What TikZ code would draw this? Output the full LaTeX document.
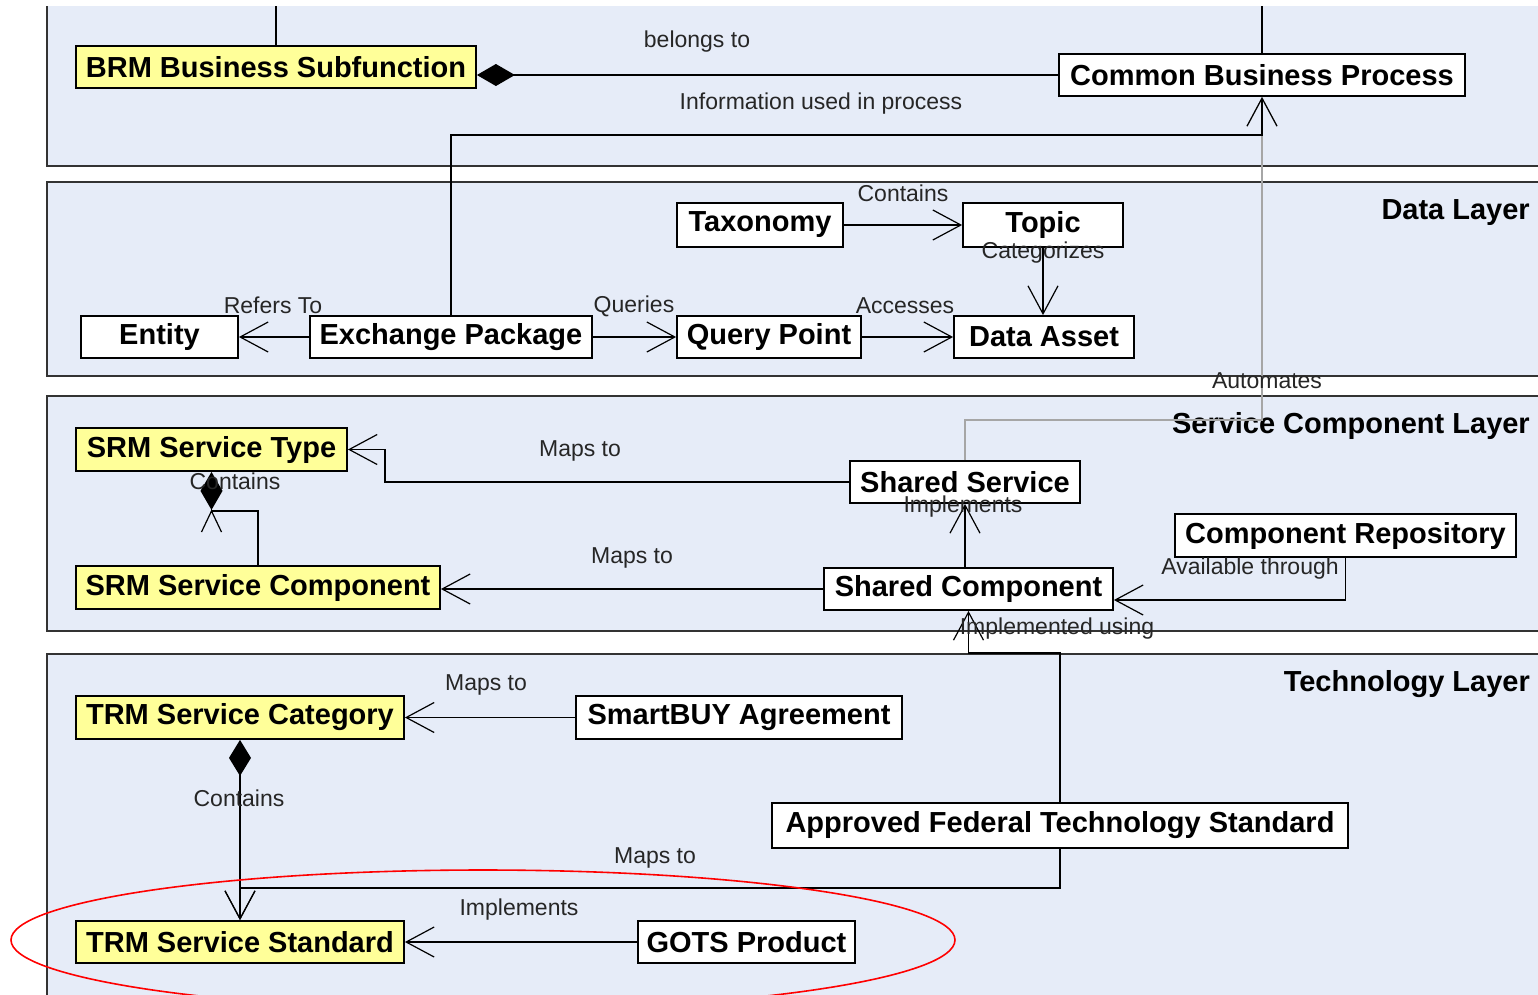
\documentclass[tikz,border=0pt]{standalone}
\usepackage{fontspec}
\setmainfont{Liberation Sans}
\usetikzlibrary{arrows.meta}
\definecolor{panelblue}{HTML}{E6ECF8}
\definecolor{boxyellow}{HTML}{FFFF99}
\begin{document}
\begin{tikzpicture}[x=1pt,y=-1pt,
  box/.style={draw=black, line width=1.8pt, fill=white, inner sep=0pt, font=\fontsize{29}{31}\selectfont\bfseries, text=black},
  ybox/.style={box, fill=boxyellow},
  lbl/.style={font=\fontsize{23}{25}\selectfont, inner sep=0pt, text=black!85},
  layerlbl/.style={font=\fontsize{29}{31}\selectfont\bfseries, inner sep=0pt, anchor=east},
  panelline/.style={line width=2pt, draw=black!80},
  conn/.style={line width=1.5pt, draw=black},
  arr/.style={conn, -{Straight Barb[length=28pt,width=30pt,line width=1.2pt]}},
  dia/.style={conn, -{Diamond[length=38pt,width=22pt]}},
]
\useasboundingbox (0,0) rectangle (1538,994);
% panels
\fill[panelblue] (47,6) rectangle (1560,166);
\draw[panelline] (47,6) -- (47,166) -- (1560,166);
\fill[panelblue] (47,182) rectangle (1560,376);
\draw[panelline] (1560,182) -- (47,182) -- (47,376) -- (1560,376);
\fill[panelblue] (47,396) rectangle (1560,631);
\draw[panelline] (1560,396) -- (47,396) -- (47,631) -- (1560,631);
\fill[panelblue] (47,654) rectangle (1560,1010);
\draw[panelline] (1560,654) -- (47,654) -- (47,1010);

% layer labels
\node[layerlbl] (ldata) at (1530,213) {Data Layer};
\node[layerlbl] (lsc) at (1530,426) {Service Component Layer};
\node[layerlbl] (ltech) at (1530,684) {Technology Layer};

% nodes
\node[ybox, minimum width=400pt, minimum height=42pt] (brm) at (276,67) {BRM Business Subfunction};
\node[box, minimum width=406pt, minimum height=42pt] (cbp) at (1262,75) {Common Business Process};
\node[box, minimum width=166pt, minimum height=44pt] (tax) at (760,225) {Taxonomy};
\node[box, minimum width=160pt, minimum height=44pt] (topic) at (1043,225) {Topic};
\node[box, minimum width=157pt, minimum height=42pt] (entity) at (159.5,337) {Entity};
\node[box, minimum width=282pt, minimum height=42pt] (ep) at (451,337) {Exchange Package};
\node[box, minimum width=184pt, minimum height=42pt] (qp) at (769,337) {Query Point};
\node[box, minimum width=180pt, minimum height=42pt] (da) at (1044,337) {Data Asset};
\node[ybox, minimum width=271pt, minimum height=43pt] (srmst) at (211.5,449.5) {SRM Service Type};
\node[box, minimum width=230pt, minimum height=42pt] (ss) at (965,482) {Shared Service};
\node[box, minimum width=341pt, minimum height=43pt] (cr) at (1345.5,535.5) {Component Repository};
\node[box, minimum width=289pt, minimum height=42pt] (sc) at (968.5,589) {Shared Component};
\node[ybox, minimum width=364pt, minimum height=43pt] (srmsc) at (258,587.5) {SRM Service Component};
\node[ybox, minimum width=328pt, minimum height=43pt] (trmcat) at (240,717.5) {TRM Service Category};
\node[box, minimum width=326pt, minimum height=43pt] (smart) at (739,717.5) {SmartBUY Agreement};
\node[box, minimum width=576pt, minimum height=45pt] (afts) at (1060,825.5) {Approved Federal Technology Standard};
\node[ybox, minimum width=328pt, minimum height=42pt] (trmstd) at (240,942) {TRM Service Standard};
\node[box, minimum width=217pt, minimum height=42pt] (gots) at (746.5,942) {GOTS Product};

% helper coordinates
\coordinate (ptop) at (0,6);
\coordinate (infoy) at (0,135);
\coordinate (autoy) at (0,420);
\coordinate (mx) at (385,0);
\coordinate (avy) at (0,600);
\coordinate (cy) at (211.5,511);
\coordinate (iy) at (0,653);
\coordinate (my) at (0,888);

% connectors
\draw[conn] (brm.north) -- (brm.north |- ptop);
\draw[conn] (cbp.north) -- (cbp.north |- ptop);
\draw[dia] (cbp.west) -- (cbp.west -| brm.east);
\draw[arr, draw=black!35] (ss.north) -- (ss.north |- autoy) -| (cbp.south);
\draw[arr] (ep.north) -- (ep.north |- infoy) -| (cbp.south);
\draw[arr] (tax.east) -- (topic.west);
\draw[arr] (topic.south) -- (topic.south |- da.north);
\draw[arr] (ep.west) -- (entity.east);
\draw[arr] (ep.east) -- (qp.west);
\draw[arr] (qp.east) -- (da.west);
\draw[arr] (ss.west) -- (ss.west -| mx) |- (srmst.east);
\draw[arr] (sc.west) -- (sc.west -| srmsc.east);
\draw[arr] (sc.north -| ss.south) -- (ss.south);
\draw[arr] (cr.south) -- (cr.south |- avy) -- (avy -| sc.east);
\draw[dia] (srmsc.north) |- (cy) -- (cy |- srmst.south);
\draw[conn, line width=1.2pt] ([shift={(-10,21)}]cy) -- (cy) -- ([shift={(10,21)}]cy);
\draw[arr] (afts.north) -- (afts.north |- iy) -| (sc.south);
\draw[arr] (afts.south) -- (afts.south |- my) -| (trmstd.north);
\draw[arr] (smart.west) -- (trmcat.east);
\draw[conn, {Diamond[length=36pt,width=22pt]}-{Straight Barb[length=28pt,width=30pt,line width=1.2pt]}] (trmcat.south) -- (trmstd.north);
\draw[arr] (gots.west) -- (trmstd.east);

% labels
\node[lbl] (l1) at (697,42) {belongs to};
\node[lbl] (l2) at (821,104) {Information used in process};
\node[lbl] (l3) at (903,193) {Contains};
\node[lbl] (l4) at (1043,253) {Categorizes};
\node[lbl] (l5) at (273,305) {Refers To};
\node[lbl] (l6) at (634,306) {Queries};
\node[lbl] (l7) at (905,306) {Accesses};
\node[lbl] (l8) at (1267,381) {Automates};
\node[lbl] (l9) at (580,451) {Maps to};
\node[lbl] (l10) at (235,481) {Contains};
\node[lbl] (l11) at (963,507) {Implements};
\node[lbl] (l12) at (632,558) {Maps to};
\node[lbl] (l13) at (1250,569) {Available through};
\node[lbl] (l14) at (1057,629) {Implemented using};
\node[lbl] (l15) at (486,685) {Maps to};
\node[lbl] (l16) at (239,798) {Contains};
\node[lbl] (l17) at (655,858) {Maps to};
\node[lbl] (l18) at (519,910) {Implements};

% highlight
\draw[red, line width=1.6pt] (483,940) ellipse [x radius=472pt, y radius=70pt];
\end{tikzpicture}
\end{document}
